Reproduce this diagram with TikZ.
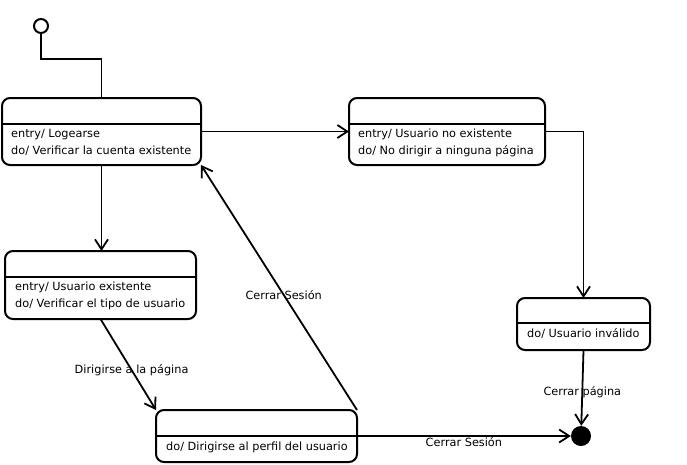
\documentclass[tikz,border=0pt]{standalone}
\usepackage{fontspec}
\setmainfont{DejaVu Sans}
\usetikzlibrary{arrows.meta}
\tikzset{estado/.style={draw, rectangle, rounded corners=8pt, line width=2pt, outer sep=0pt, inner sep=0pt}}
\tikzset{accion/.style={anchor=base west, align=left, inner sep=0pt, font=\fontsize{11.3}{17}\selectfont}}
\tikzset{etiqueta/.style={inner sep=1pt, font=\fontsize{11.3}{13}\selectfont}}
\tikzset{trans/.style={line width=1.8pt, -{Straight Barb[length=10pt, width=13pt, line width=1.8pt]}}}

\begin{document}
\begin{tikzpicture}[x=1pt, y=-1pt]
\useasboundingbox (0,0) rectangle (687,464);

\node[circle, draw, line width=2pt, fill=white, minimum size=14pt, inner sep=0pt] (ini) at (41,26) {};
\node[circle, fill=black, minimum size=20pt, inner sep=0pt] (fin) at (581,436) {};

\node[estado, minimum width=199, minimum height=67] (login) at (101.5,131.5) {};
\draw[line width=2pt] ([yshift=-26pt]login.north west) -- ([yshift=-26pt]login.north east);
\node[accion] at ([shift={(9,56)}]login.north west) {entry/ Logearse\\do/ Verificar la cuenta existente};

\node[estado, minimum width=196, minimum height=67] (noexiste) at (447,131.5) {};
\draw[line width=2pt] ([yshift=-26pt]noexiste.north west) -- ([yshift=-26pt]noexiste.north east);
\node[accion] at ([shift={(9,56)}]noexiste.north west) {entry/ Usuario no existente\\do/ No dirigir a ninguna página};

\node[estado, minimum width=191, minimum height=68] (existe) at (100.5,285) {};
\draw[line width=2pt] ([yshift=-26pt]existe.north west) -- ([yshift=-26pt]existe.north east);
\node[accion] at ([shift={(10,56)}]existe.north west) {entry/ Usuario existente\\do/ Verificar el tipo de usuario};

\node[estado, minimum width=201, minimum height=52] (perfil) at (256.5,436) {};
\draw[line width=2pt] ([yshift=-26pt]perfil.north west) -- ([yshift=-26pt]perfil.north east);
\node[accion] at ([shift={(10,40)}]perfil.north west) {do/ Dirigirse al perfil del usuario};

\node[estado, minimum width=133, minimum height=52] (invalido) at (583.5,324) {};
\draw[line width=2pt] ([yshift=-25pt]invalido.north west) -- ([yshift=-25pt]invalido.north east);
\node[accion] at ([shift={(10,39)}]invalido.north west) {do/ Usuario inválido};

% transiciones
\draw[line width=1.8pt] (ini.south) -- ++(0,25) -| (login.north);
\draw[trans] (login.east) -- (noexiste.west);
\draw[trans] (noexiste.east) -| (invalido.north);
\draw[trans] (login.south) -- (login.south |- existe.north);
\draw[trans] (existe.south) -- node[etiqueta, pos=.56] {Dirigirse a la página} (perfil.north west);
\draw[trans] (perfil.north east) -- node[etiqueta, pos=.47] {Cerrar Sesión} (login.south east);
\draw[trans] (invalido.south) -- node[etiqueta, pos=.55] {Cerrar página} (fin);
\draw[trans] (perfil.east) -- node[etiqueta, below, pos=.5] {Cerrar Sesión} (fin);

\end{tikzpicture}
\end{document}
